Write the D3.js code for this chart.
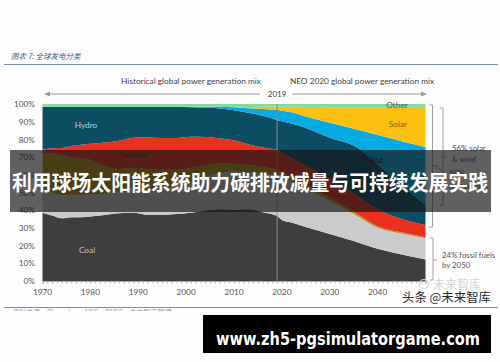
<!DOCTYPE html>
<html>
<head>
<meta charset="utf-8">
<script src="https://cdn.jsdelivr.net/npm/d3@7"></script>
<style>
  body { margin: 0; background: #fdfdfd; }
  svg { display: block; font-family: Lato, "Open Sans", sans-serif; }
</style>
</head>
<body>
<div id="chart"></div>
<script>
// Share of global power generation (%)
const years   = [1970,1972,1974,1976,1978,1980,1983,1986,1989,1992,1995,1998,2001,2004,2007,2010,2013,2016,2019,2020,2022,2025,2030,2035,2040,2045,2050];
const coal    = [38.6,37.0,35.4,36.0,36.0,36.5,37.3,38.3,38.5,37.3,37.3,37.8,38.5,39.8,40.5,40.3,40.5,38.8,36.7,34.5,33.0,30.5,26.5,22.6,18.2,15.0,12.2];
const gas     = [12.5,13.0,13.2,12.8,12.5,12.5,12.0,12.5,14.0,15.0,15.5,16.0,17.5,19.0,20.5,21.5,21.0,22.0,23.0,24.2,23.5,21.8,18.9,15.2,11.9,11.8,12.0];
const oil     = [21.0,22.0,22.5,21.0,21.0,19.5,15.5,12.5,11.5,11.0,10.0,9.0,8.0,6.5,5.5,4.5,4.2,3.6,3.0,2.8,2.5,2.2,1.6,1.2,0.9,0.7,0.5];
const nuclear = [2.0,3.0,4.0,6.5,7.5,9.0,13.5,16.0,17.0,17.8,18.0,18.0,17.5,16.0,14.0,13.2,11.5,11.0,11.3,11.0,10.5,10.5,11.0,10.5,9.5,7.5,6.9];
const hydro   = [24.4,23.5,23.4,22.2,21.5,21.0,20.2,19.2,17.5,17.4,17.7,17.7,16.7,16.7,17.0,17.0,17.8,18.0,17.0,17.8,19.5,21.5,23.0,27.0,25.5,19.0,11.4];
const wind    = [0,0,0,0,0,0,0,0,0,0,0,0,0.3,0.5,0.9,1.6,2.6,3.8,5.6,5.9,6.3,6.4,8.4,9.5,16.5,25.0,32.7];
const solar   = [0,0,0,0,0,0,0,0,0,0,0,0,0,0,0.1,0.2,0.7,1.3,1.9,2.2,3.1,5.4,8.8,12.2,15.7,19.3,22.6];
const other   = [1.5,1.5,1.5,1.5,1.5,1.5,1.5,1.5,1.5,1.5,1.5,1.5,1.5,1.5,1.5,1.7,1.7,1.5,1.5,1.6,1.6,1.7,1.8,1.8,1.8,1.7,1.7];

const keys = ["Coal", "Gas", "Oil", "Nuclear", "Hydro", "Wind", "Solar", "Other"];
const yTicks = [0, 10, 20, 30, 40, 50, 60, 70, 80, 90, 100];
// 2050 label sits under the watermark in the original, so only these show
const xTicks = [1970, 1980, 1990, 2000, 2010, 2020, 2030, 2040];

const colors = {
  Coal: "#3e3e3e", Gas: "#cbcbcb", Oil: "#b8941a", Nuclear: "#e9311d",
  Hydro: "#0c4d64", Wind: "#06aae4", Solar: "#fcc010", Other: "#82dba4"
};

const rows = years.map((yr, i) => ({
  year: yr, Coal: coal[i], Gas: gas[i], Oil: oil[i], Nuclear: nuclear[i],
  Hydro: hydro[i], Wind: wind[i], Solar: solar[i], Other: other[i]
}));

const W = 500, H = 362;
const svg = d3.select("#chart").append("svg")
  .attr("width", W).attr("height", H);

svg.append("rect").attr("width", W).attr("height", H).attr("fill", "#fdfdfd");

// Scales
const x = d3.scaleLinear().domain([1970, 2050]).range([42.5, 425.5]);
const y = d3.scaleLinear().domain([0, 100]).range([281, 104]);

// Report header
svg.append("text")
  .attr("x", 11).attr("y", 59)
  .attr("font-family", "'Noto Sans CJK SC', sans-serif")
  .attr("font-style", "italic")
  .attr("font-size", 7.5)
  .attr("fill", "#3a5a8a")
  .text("图表 7:  全球发电分类");

svg.append("line")
  .attr("x1", 4).attr("x2", 498).attr("y1", 64.5).attr("y2", 64.5)
  .attr("stroke", "#7890a6").attr("stroke-width", 1.2);

// Section headings
svg.append("text")
  .attr("x", 191).attr("y", 84).attr("text-anchor", "middle")
  .attr("font-size", 8.3).attr("fill", "#444")
  .text("Historical global power generation mix");

svg.append("text")
  .attr("x", 362).attr("y", 84).attr("text-anchor", "middle")
  .attr("font-size", 8.3).attr("fill", "#444")
  .text("NEO 2020  global power generation mix");

// Arrows around 2019
const arrow = svg.append("g").attr("stroke", "#999").attr("stroke-width", 1);
arrow.append("line").attr("x1", 46).attr("x2", 260).attr("y1", 94).attr("y2", 94);
arrow.append("line").attr("x1", 292).attr("x2", 422).attr("y1", 94).attr("y2", 94);
svg.append("path").attr("d", "M44,94 L50,91.5 L50,96.5 Z").attr("fill", "#999");
svg.append("path").attr("d", "M427,94 L421,91.5 L421,96.5 Z").attr("fill", "#999");
svg.append("text")
  .attr("x", x(2019)).attr("y", 97).attr("text-anchor", "middle")
  .attr("font-size", 8).attr("fill", "#444").text("2019");

// Stacked areas
const stacked = d3.stack().keys(keys)(rows);
const area = d3.area()
  .x(d => x(d.data.year))
  .y0(d => y(d[0]))
  .y1(d => y(d[1]))
  .curve(d3.curveMonotoneX);

svg.append("g").selectAll("path")
  .data(stacked)
  .join("path")
  .attr("fill", d => colors[d.key])
  .attr("d", area);

// 2019 divider
svg.append("line")
  .attr("x1", x(2019)).attr("x2", x(2019)).attr("y1", 104).attr("y2", 281)
  .attr("stroke", "#8a8a8a").attr("stroke-width", 1);

// Series labels
const labels = [
  {t: "Hydro", x: 86, y: 128, c: "#b7d2dc"},
  {t: "Nuclear", x: 134, y: 157, c: "#333"},
  {t: "Coal", x: 87, y: 253, c: "#c4c4c4"},
  {t: "Wind", x: 373, y: 163, c: "#1c2c32"},
  {t: "Solar", x: 398, y: 127, c: "#8a6400"},
  {t: "Other", x: 397, y: 108, c: "#555"}
];
svg.append("g").selectAll("text")
  .data(labels)
  .join("text")
  .attr("x", d => d.x).attr("y", d => d.y)
  .attr("text-anchor", "middle")
  .attr("font-size", 8.3)
  .attr("fill", d => d.c)
  .text(d => d.t);

// Y axis
const yAxis = svg.append("g")
  .attr("transform", "translate(42,0)")
  .call(d3.axisLeft(y).tickValues(yTicks).tickSize(0).tickPadding(7).tickFormat(d => d + "%"));
yAxis.select(".domain").remove();
yAxis.selectAll("text").attr("font-size", 8.3).attr("fill", "#555").attr("font-family", "Lato, sans-serif");

// X axis
const xAxis = svg.append("g")
  .attr("transform", "translate(0,281)")
  .call(d3.axisBottom(x).tickValues(d3.range(1970, 2051)).tickSize(2.5).tickFormat(""));
xAxis.select(".domain").attr("stroke", "#aaa");
xAxis.selectAll("line").attr("stroke", "#aaa");

svg.append("g").selectAll("text")
  .data(xTicks)
  .join("text")
  .attr("x", d => x(d)).attr("y", 295)
  .attr("text-anchor", "middle")
  .attr("font-size", 8.3).attr("fill", "#555")
  .text(d => d);

// Brackets on the right
const br = svg.append("g").attr("stroke", "#999").attr("stroke-width", 0.9).attr("fill", "none");
br.append("path").attr("d", "M429,105 H432.5 V227 H429 M432.5,166 H437 L446,175");
br.append("path").attr("d", "M440,108 H443 V205 H440 M443,157 H447");
br.append("path").attr("d", "M430,238 H433 V280 H430 M433,260 H437");

const note = svg.append("g").attr("font-size", 7.8).attr("fill", "#555");
note.append("text").attr("x", 452).attr("y", 151).text("56% solar");
note.append("text").attr("x", 452).attr("y", 162).text("& wind");
note.append("text").attr("x", 449).attr("y", 176).text("69%");
note.append("text").attr("x", 449).attr("y", 189).text("renewables");
note.append("text").attr("x", 442).attr("y", 258).text("24% fossil fuels");
note.append("text").attr("x", 442).attr("y", 268).text("by 2050");

// Source line
svg.append("line")
  .attr("x1", 4).attr("x2", 498).attr("y1", 307.5).attr("y2", 307.5)
  .attr("stroke", "#7890a6").attr("stroke-width", 1);
svg.append("clipPath").attr("id", "srcclip")
  .append("rect").attr("x", 0).attr("y", 308).attr("width", 200).attr("height", 3);
svg.append("text")
  .attr("clip-path", "url(#srcclip)")
  .attr("x", 12).attr("y", 315)
  .attr("font-family", "'Noto Sans CJK SC', sans-serif")
  .attr("font-size", 7).attr("fill", "#7d98c0")
  .text("资料来源：Bloomberg NEF，BNEF，未来智库整理");

// Watermark
svg.append("circle")
  .attr("cx", 424).attr("cy", 284).attr("r", 4.5)
  .attr("fill", "none").attr("stroke", "#d6d6d6").attr("stroke-width", 1.2);
svg.append("text")
  .attr("x", 433).attr("y", 289)
  .attr("font-family", "'Noto Sans CJK SC', sans-serif")
  .attr("font-size", 12).attr("fill", "#d4d4d4")
  .text("未来智库");
svg.append("text")
  .attr("x", 402).attr("y", 302)
  .attr("font-family", "'Noto Sans CJK SC', sans-serif")
  .attr("font-size", 12.5).attr("fill", "#2a2a2a")
  .attr("stroke", "#fff").attr("stroke-width", 2).attr("paint-order", "stroke")
  .attr("textLength", 89).attr("lengthAdjust", "spacingAndGlyphs")
  .text("头条 @未来智库");

// Overlay banner
svg.append("rect")
  .attr("x", 10).attr("y", 150).attr("width", 481).attr("height", 62)
  .attr("fill", "rgba(20,20,20,0.68)");
svg.append("text")
  .attr("x", 250).attr("y", 190).attr("text-anchor", "middle")
  .attr("font-family", "'Noto Sans CJK SC', sans-serif")
  .attr("font-weight", 700).attr("font-size", 21).attr("fill", "#fff")
  .attr("textLength", 476).attr("lengthAdjust", "spacingAndGlyphs")
  .text("利用球场太阳能系统助力碳排放减量与可持续发展实践");

// Bottom url box
svg.append("rect")
  .attr("x", 203).attr("y", 315).attr("width", 288).attr("height", 38)
  .attr("fill", "#000");
svg.append("text")
  .attr("x", 348).attr("y", 345).attr("text-anchor", "middle")
  .attr("font-family", "'DejaVu Sans', sans-serif")
  .attr("font-weight", 700).attr("font-size", 17).attr("fill", "#fff")
  .attr("textLength", 264).attr("lengthAdjust", "spacingAndGlyphs")
  .text("www.zh5-pgsimulatorgame.com");
</script>
</body>
</html>
